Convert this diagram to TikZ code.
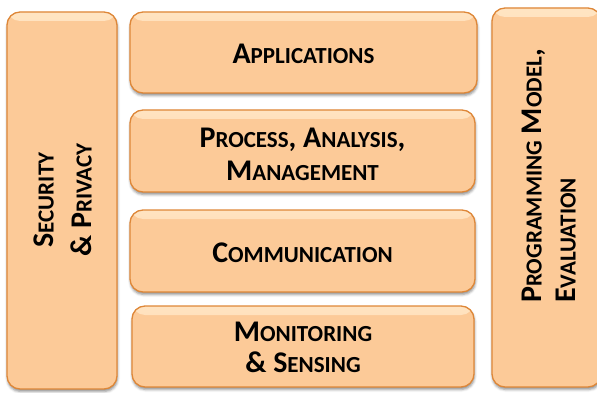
\documentclass[tikz,border=0pt]{standalone}
\usepackage{fontspec}
\setmainfont{Carlito}
\usetikzlibrary{shadows.blur}

\definecolor{boxfill}{HTML}{FCCA98}
\definecolor{boxedge}{HTML}{DE8738}
\definecolor{boxlight}{HTML}{FFE4C2}

% bold small caps built from two sizes of capitals
\newcommand\capsz{\fontsize{30}{33}\selectfont}
\newcommand\sm[1]{{\fontsize{23}{33}\selectfont #1}}

\begin{document}
\begin{tikzpicture}[x=1pt,y=-1pt,
  layer/.style={draw=boxedge, line width=1.3pt, fill=boxfill, rounded corners=13pt,
    blur shadow={shadow xshift=0.5pt, shadow yshift=-2.5pt,
                 shadow blur radius=2.5pt, shadow opacity=45},
    path picture={\shade[top color=boxlight, bottom color=boxfill]
      ([yshift=1pt]path picture bounding box.north west) rectangle
      ([yshift=-9pt]path picture bounding box.north east);},
    inner sep=0pt},
  caption/.style={inner sep=0pt, align=center, text=black, font=\bfseries\capsz},
]
\useasboundingbox (0,0) rectangle (597,393);

% side pillars
\node[layer, minimum width=110pt, minimum height=377pt] (sec) at (62,200.5) {};
\node[layer, minimum width=109pt, minimum height=379pt] (prog) at (546.5,197.5) {};

% stacked layers
\node[layer, minimum width=347pt, minimum height=81pt] (app) at (303.5,52.5) {};
\node[layer, minimum width=345pt, minimum height=82pt] (proc) at (302.5,151) {};
\node[layer, minimum width=345pt, minimum height=82pt] (comm) at (302.5,251) {};
\node[layer, minimum width=342pt, minimum height=81pt] (mon) at (303,346.5) {};

% layer captions
\node[caption] (applabel) at ([yshift=-1pt]app.center) {A\sm{PPLICATIONS}};
\node[caption] (proclabel) at ([yshift=-3pt]proc.center)
  {P\sm{ROCESS}, A\sm{NALYSIS},\\M\sm{ANAGEMENT}};
\node[caption] (commlabel) at ([yshift=-1.3pt]comm.center) {C\sm{OMMUNICATION}};
\node[caption] (monlabel) at ([yshift=-1.3pt]mon.center)
  {M\sm{ONITORING}\\[-2pt]\& S\sm{ENSING}};

% rotated captions of the pillars
\node[caption, rotate=90, font=\bfseries\fontsize{30}{38}\selectfont]
  (seclabel) at (63,200) {S\sm{ECURITY}\\\& P\sm{RIVACY}};
\node[caption, rotate=90, anchor=west, align=left,
      font=\bfseries\fontsize{30}{34}\selectfont]
  (proglabel) at (549,303) {P\sm{ROGRAMMING} M\sm{ODEL},\\E\sm{VALUATION}};
\end{tikzpicture}
\end{document}
